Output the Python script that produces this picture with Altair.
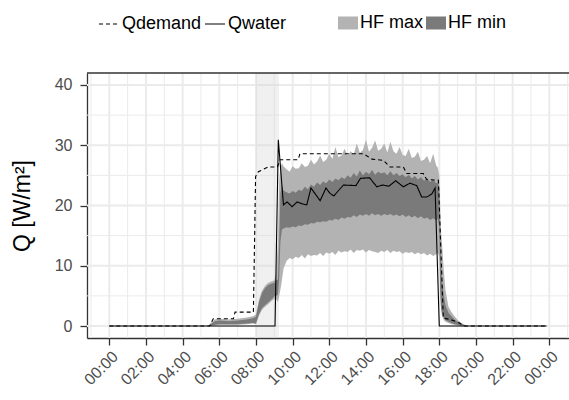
import altair as alt
import pandas as pd

# ---------------- data ----------------
# Qdemand (dashed line): time [h], value [W/m2]
qd_h = [0, 5.47, 5.67, 6.77, 6.86, 7.86, 7.98, 8.13, 8.67, 9.17, 9.31, 10.3, 10.4,
        13.86, 14.32, 14.95, 15.31, 16.04, 16.22, 17.13, 17.31, 17.95, 18.22, 18.59,
        19.1, 19.35, 23.83]
qd_v = [0, 0, 1.2, 1.2, 2.3, 2.3, 24.8, 25.6, 26.4, 26.4, 27.6, 27.6, 28.6,
        28.6, 27.7, 27.5, 26.4, 26.4, 25.3, 25.3, 24.3, 24.2, 1.3, 1.1,
        0.5, 0, 0]

# Qwater (solid line)
qw_h = [0, 9.04, 9.22, 9.5, 9.7, 9.97, 10.25, 10.5, 10.77, 11.0, 11.5, 11.82, 12.04,
        12.25, 12.77, 13.45, 13.7, 14.2, 14.59, 14.9, 15.25, 15.62, 16.04, 16.4,
        16.77, 17.04, 17.32, 17.59, 17.77, 18.0, 23.85]
qw_v = [0, 0, 30.9, 20.1, 20.6, 19.8, 20.6, 20.3, 20.1, 22.9, 20.8, 22.9, 22.0,
        21.6, 23.4, 23.3, 24.5, 24.6, 23.1, 23.4, 23.2, 24.1, 23.1, 23.7,
        23.3, 21.4, 21.4, 21.9, 22.9, 0, 0]

# ribbons: time in minutes after midnight
band_min = [330, 345, 360, 390, 420, 450, 470, 480, 490, 500, 510, 520, 530, 540,
            546, 552, 556, 560, 565, 570, 580,
            590, 600, 610, 620, 630, 640, 650, 660, 670, 680, 690, 700, 710, 720,
            730, 740, 750, 760, 770, 780, 790, 800, 810, 820, 830, 840, 850, 860,
            870, 880, 890, 900, 910, 920, 930, 940, 950, 960, 970, 980, 990, 1000,
            1010, 1020, 1030, 1040, 1050, 1060, 1070,
            1075, 1080, 1083, 1086, 1090, 1095, 1100, 1110, 1120, 1130, 1140, 1155, 1170]

hfmax_lo = [0, 0.1, 0.2, 0.2, 0.2, 0.3, 0.4, 0.3, 1.7, 2.7, 3.2, 3.6, 4.1, 4.5,
            4.5, 4.0, 5.0, 6.0, 7.6, 9.5, 10.8,
            11.3, 11.1, 11.5, 11.3, 11.8, 11.2, 11.9, 11.6, 11.8, 11.7, 12.1, 11.6, 12.2, 12.0,
            12.3, 11.8, 12.5, 12.2, 12.4, 12.3, 12.7, 12.1, 12.6, 12.5, 12.7, 12.2, 12.6, 12.4,
            12.3, 12.1, 12.5, 12.3, 12.6, 12.1, 12.5, 12.3, 12.4, 12.0, 12.3, 12.1, 12.3, 11.9,
            12.2, 11.9, 12.1, 11.7, 12.0, 11.6, 11.9,
            12.2, 11.5, 5.0, 2.5, 1.5, 1.0, 0.7, 0.5, 0.3, 0.2, 0.1, 0, 0]
hfmax_hi = [0.4, 1.1, 1.2, 1.1, 1.2, 1.4, 1.6, 1.9, 4.4, 5.9, 6.7, 7.2, 7.4, 7.6,
            8.5, 14.0, 24.0, 26.5, 27.0, 26.5, 26.0,
            25.6, 26.5, 26.1, 26.2, 27.0, 26.4, 26.6, 27.6, 26.8, 27.3, 28.3, 27.2, 27.6, 28.6,
            27.7, 29.7, 28.0, 28.3, 29.4, 28.3, 29.0, 28.5, 30.3, 28.7, 29.2, 30.9, 28.9, 29.6,
            30.8, 29.1, 29.4, 30.3, 28.8, 30.6, 29.0, 28.6, 29.7, 28.4, 28.2, 29.4, 27.9, 28.1,
            28.9, 27.4, 27.6, 28.2, 27.0, 28.6, 26.6,
            26.3, 25.0, 20.0, 15.5, 13.0, 9.0, 6.0, 3.2, 2.3, 1.6, 1.0, 0.4, 0.05]
hfmin_lo = [0, 0.2, 0.3, 0.3, 0.3, 0.4, 0.5, 0.4, 2.0, 3.0, 3.5, 3.9, 4.4, 4.9,
            5.0, 5.2, 8.0, 14.0, 16.0, 16.2, 16.4,
            16.3, 16.5, 16.4, 16.7, 16.6, 16.9, 16.8, 17.1, 17.0, 17.3, 17.2, 17.4, 17.3, 17.6,
            17.5, 17.8, 17.6, 18.0, 17.8, 18.1, 18.0, 18.4, 18.1, 18.5, 18.3, 18.6, 18.3, 18.7,
            18.4, 18.6, 18.3, 18.6, 18.4, 18.6, 18.3, 18.5, 18.2, 18.5, 18.1, 18.4, 18.0, 18.3,
            17.9, 18.2, 17.8, 18.0, 17.6, 17.9, 17.5,
            17.8, 16.5, 6.0, 3.0, 2.0, 1.5, 1.0, 0.7, 0.5, 0.3, 0.2, 0.05, 0]
hfmin_hi = [0.2, 0.8, 0.9, 0.8, 0.9, 1.1, 1.3, 1.5, 4.0, 5.5, 6.3, 6.8, 7.0, 7.2,
            7.6, 7.7, 14.0, 22.0, 23.5, 22.5, 22.2,
            22.0, 22.4, 22.1, 22.6, 22.4, 23.1, 22.7, 23.5, 23.1, 23.8, 23.4, 24.0, 23.7, 24.3,
            23.9, 24.5, 24.2, 24.7, 24.4, 25.0, 24.6, 25.4, 24.8, 25.8, 25.0, 25.6, 25.2, 25.9,
            25.1, 25.6, 25.3, 25.5, 25.0, 25.7, 25.0, 25.4, 24.9, 25.2, 24.7, 25.1, 24.5, 24.9,
            24.3, 24.7, 24.1, 24.5, 23.9, 24.3, 23.7,
            23.8, 23.0, 16.0, 10.0, 7.0, 5.0, 3.5, 2.2, 1.6, 1.1, 0.7, 0.3, 0.02]

# shaded period [h]
shade_start, shade_end = [8.0], [9.25]

x_major = [0, 2, 4, 6, 8, 10, 12, 14, 16, 18, 20, 22, 24]
x_minor = [-1, 1, 3, 5, 7, 9, 11, 13, 15, 17, 19, 21, 23, 25]
y_major = [0, 10, 20, 30, 40]
y_minor = [5, 15, 25, 35]

# ---------------- tables ----------------
lines = pd.concat([
    pd.DataFrame({"h": qd_h, "v": qd_v, "series": "Qdemand"}),
    pd.DataFrame({"h": qw_h, "v": qw_v, "series": "Qwater"}),
])
band_h = [m / 60 for m in band_min]
hfmax = pd.DataFrame({"h": band_h, "lo": hfmax_lo, "hi": hfmax_hi, "band": "HF max"})
hfmin = pd.DataFrame({"h": band_h, "lo": hfmin_lo, "hi": hfmin_hi, "band": "HF min"})

FONT = "Liberation Sans"
GRID = "#ebebeb"
DARK = "#333333"

xs = alt.Scale(domain=[-1.216, 25.075], nice=False, zero=False)
ys = alt.Scale(domain=[-1.99, 41.99], nice=False, zero=False)

x_axis = alt.Axis(
    values=x_major, title=None, grid=False, labelOverlap=False, labelFlush=False,
    labelExpr="(datum.value % 24 < 10 ? '0' : '') + toString(datum.value % 24) + ':00'",
    labelAngle=-45, labelAlign="right", labelBaseline="top",
    labelFont=FONT, labelFontSize=16, labelColor="#4d4d4d", labelPadding=3,
    tickSize=7, tickColor=DARK, tickWidth=1.3,
    domainColor=DARK, domainWidth=1.3)
y_axis = alt.Axis(
    values=y_major, title="Q [W/m²]", grid=False, labelOverlap=False,
    titleFont=FONT, titleFontSize=23, titleFontWeight="normal", titleColor="black",
    titlePadding=20,
    labelFont=FONT, labelFontSize=16, labelColor="#4d4d4d", labelPadding=8,
    tickSize=7, tickColor=DARK, tickWidth=1.3,
    domainColor=DARK, domainWidth=1.3)

def X(field):
    return alt.X(field, scale=xs, axis=x_axis)

def Y(field):
    return alt.Y(field, scale=ys, axis=y_axis)

def vgrid(vals, w):
    return alt.Chart(pd.DataFrame({"h": vals})).mark_rule(color=GRID, strokeWidth=w).encode(
        x=X("h:Q"))

def hgrid(vals, w):
    return alt.Chart(pd.DataFrame({"v": vals})).mark_rule(color=GRID, strokeWidth=w).encode(
        y=Y("v:Q"))

shade = alt.Chart(pd.DataFrame({"a": shade_start, "b": shade_end})).mark_rect(
    color="#d4d4d4", opacity=0.35).encode(x=X("a:Q"), x2="b:Q")

fill_scale = alt.Scale(domain=["HF max", "HF min"], range=["#b3b3b3", "#7a7a7a"])
fill_legend = alt.Legend(
    orient="none", legendX=251, legendY=-60, direction="horizontal", title=None,
    labelFontSize=18, labelFont=FONT, labelColor="black", labelOffset=2,
    columnPadding=3, padding=0, offset=0,
    symbolType="M-1,-0.65H1V0.65H-1Z", symbolSize=400, symbolStrokeWidth=0,
    symbolOpacity=1)

def ribbon(df):
    return alt.Chart(df).mark_area(opacity=1, interpolate="linear").encode(
        x=X("h:Q"), y=Y("hi:Q"), y2="lo:Q",
        fill=alt.Fill("band:N", scale=fill_scale, legend=fill_legend))

dash_legend = alt.Legend(
    orient="none", legendX=11, legendY=-60, direction="horizontal", title=None,
    labelFontSize=18, labelFont=FONT, labelColor="black", labelOffset=2,
    columnPadding=0, padding=0, offset=0,
    symbolType="stroke", symbolSize=400, symbolStrokeColor="black",
    symbolStrokeWidth=1.1)

line_layer = alt.Chart(lines).mark_line(color="black", strokeWidth=1.1).encode(
    x=X("h:Q"), y=Y("v:Q"),
    strokeDash=alt.StrokeDash("series:N", scale=alt.Scale(
        domain=["Qdemand", "Qwater"], range=[[4, 3], [1, 0]]), legend=dash_legend),
)

top_border = alt.Chart(pd.DataFrame({"v": [41.99]})).mark_rule(
    color=DARK, strokeWidth=1.3).encode(y=Y("v:Q"))

chart = alt.layer(
    vgrid(x_minor, 1), hgrid(y_minor, 1), vgrid(x_major, 2), hgrid(y_major, 2),
    shade, ribbon(hfmax), ribbon(hfmin), line_layer, top_border,
).properties(
    width=482, height=265,
    autosize=alt.AutoSizeParams(type="none"),
    padding={"left": 87, "top": 73, "right": 0, "bottom": 62},
    background="white",
).configure_view(stroke=None)

chart.save("out.html", embed_options={"renderer": "svg", "actions": False})
